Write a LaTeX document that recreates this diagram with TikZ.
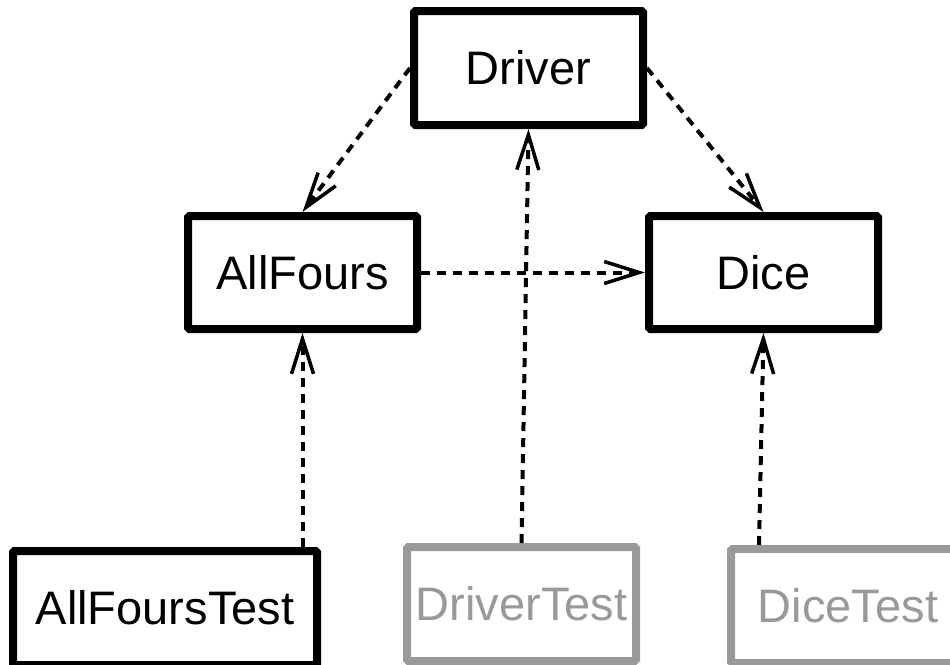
\documentclass[tikz,border=0pt]{standalone}
\usepackage{fontspec}
\setmainfont{Liberation Sans}
\usetikzlibrary{arrows.meta}
\definecolor{testgray}{RGB}{153,153,153}
\tikzset{
  cls/.style={draw=black, line width=8pt, rounded corners=1.5pt, rectangle,
    minimum width=229pt, minimum height=114pt, inner sep=0pt,
    font=\fontsize{47}{56}\selectfont},
  testcls/.style={cls, draw=testgray, text=testgray},
  dep/.style={line width=4pt, dash pattern=on 9pt off 7pt,
    -{Straight Barb[length=35pt, width=22pt, line width=3.5pt]}}
}
\begin{document}
\begin{tikzpicture}[x=1pt, y=-1pt]
  \useasboundingbox (0,0) rectangle (950,664);
  \clip (0,0) rectangle (950,664);
  \fill[white] (0,0) rectangle (950,664);

  % production classes
  \node[cls] (Driver)   at (528.5, 68)  {Driver};
  \node[cls, minimum height=113pt] (AllFours) at (302.5, 272.5) {AllFours};
  \node[cls, minimum height=113pt] (Dice)     at (763.5, 272.5) {Dice};

  % test classes
  \node[cls, minimum width=304pt] (AllFoursTest) at (165, 608) {AllFoursTest};
  \node[testcls] (DriverTest) at (521.5, 604) {DriverTest};
  \node[testcls, minimum width=234pt] (DiceTest) at (848, 606) {DiceTest};

  % dependencies
  \draw[dep] (Driver.west) -- (AllFours.north);
  \draw[dep] (Driver.east) -- (Dice.north);
  \draw[dep] (AllFours.east) -- (Dice.west);
  \draw[dep] (AllFours.south |- AllFoursTest.north) -- (AllFours.south);
  \draw[dep] (DriverTest.north) -- (Driver.south);
  \draw[dep] ([xshift=32pt]DiceTest.north west) -- (Dice.south);
\end{tikzpicture}
\end{document}
